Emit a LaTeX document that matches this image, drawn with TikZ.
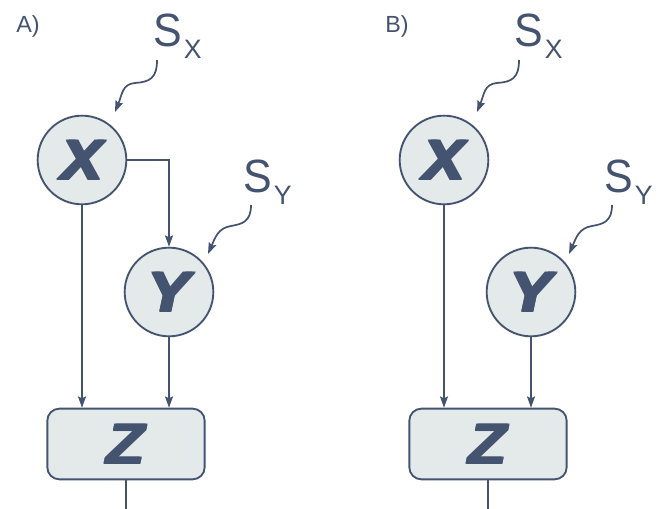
\documentclass[tikz,border=0pt]{standalone}
\usepackage{fontspec}
\setmainfont{Liberation Sans}
\usetikzlibrary{arrows.meta}
\definecolor{ink}{RGB}{68,83,112}
\definecolor{pale}{RGB}{227,234,233}
\newcommand\heavyltr[1]{\scalebox{1.1}[1]{\rlap{#1}\rlap{\kern1.4pt #1}\rlap{\raisebox{1pt}{#1}}\raisebox{1pt}{\kern1.4pt #1}}}
\newcommand\slabel[2]{{\fontsize{35}{35}\selectfont\scalebox{0.92}[1]{S}}\kern1.5pt\raisebox{-9pt}{\fontsize{20}{20}\selectfont #2}}
\tikzset{
  var/.style={circle, draw=ink, fill=pale, line width=1.4pt, minimum size=66.5pt, inner sep=0pt,
    text=ink, font=\fontsize{43}{43}\selectfont\bfseries\itshape},
  boxz/.style={rectangle, rounded corners=9pt, draw=ink, fill=pale, line width=1.4pt,
    minimum width=118pt, minimum height=53pt, inner sep=0pt,
    text=ink, font=\fontsize{43}{43}\selectfont\bfseries\itshape},
  conn/.style={draw=ink, line width=1.3pt},
  arr/.style={conn, -{Stealth[length=8.5pt,width=6pt,inset=1.5pt]}},
  slab/.style={text=ink, anchor=base west, inner sep=0pt},
  panel/.style={text=ink, anchor=base west, inner sep=0pt, font=\fontsize{17.5}{17.5}\selectfont}
}
\begin{document}
\begin{tikzpicture}[x=0.75pt,y=-0.75pt]
\useasboundingbox (0,0) rectangle (664,509);
% ---------- Panel A ----------
\node[panel] (la) at (16,33) {A)};
\node[var] (xa) at (82,160) {\heavyltr{X}};
\node[var] (ya) at (169,292) {\heavyltr{Y}};
\node[boxz] (za) at (126,444) {\heavyltr{Z}};
\node[slab] (sxa) at (153,47) {\slabel{S}{X}};
\node[slab] (sya) at (243,193) {\slabel{S}{Y}};
\coordinate (wxa0) at (157,60);
\coordinate (wxa1) at (115,112);
\coordinate (wya0) at (251,205);
\coordinate (wya1) at (208,254);
\coordinate (enda) at (126,509);
\draw[arr] (wxa0) .. controls (157,78) and (150,82) .. (135,83) .. controls (122,84) and (122,95) .. (wxa1);
\draw[arr] (wya0) .. controls (251,222) and (242,224) .. (231,226) .. controls (218,228) and (215,238) .. (wya1);
\draw[arr] (xa.east) -| (ya.north);
\draw[arr] (xa.south) -- (xa.south |- za.north);
\draw[arr] (ya.south) -- (ya.south |- za.north);
\draw[conn] (za.south) -- (enda);
% ---------- Panel B ----------
\node[panel] (lb) at (385,33) {B)};
\node[var] (xb) at (444,160) {\heavyltr{X}};
\node[var] (yb) at (531,292) {\heavyltr{Y}};
\node[boxz] (zb) at (488,444) {\heavyltr{Z}};
\node[slab] (sxb) at (514,47) {\slabel{S}{X}};
\node[slab] (syb) at (604,193) {\slabel{S}{Y}};
\coordinate (wxb0) at (519,60);
\coordinate (wxb1) at (477,112);
\coordinate (wyb0) at (612,205);
\coordinate (wyb1) at (569,254);
\coordinate (endb) at (488,509);
\draw[arr] (wxb0) .. controls (519,78) and (512,82) .. (497,83) .. controls (484,84) and (484,95) .. (wxb1);
\draw[arr] (wyb0) .. controls (612,222) and (603,224) .. (592,226) .. controls (579,228) and (576,238) .. (wyb1);
\draw[arr] (xb.south) -- (xb.south |- zb.north);
\draw[arr] (yb.south) -- (yb.south |- zb.north);
\draw[conn] (zb.south) -- (endb);
\end{tikzpicture}
\end{document}
